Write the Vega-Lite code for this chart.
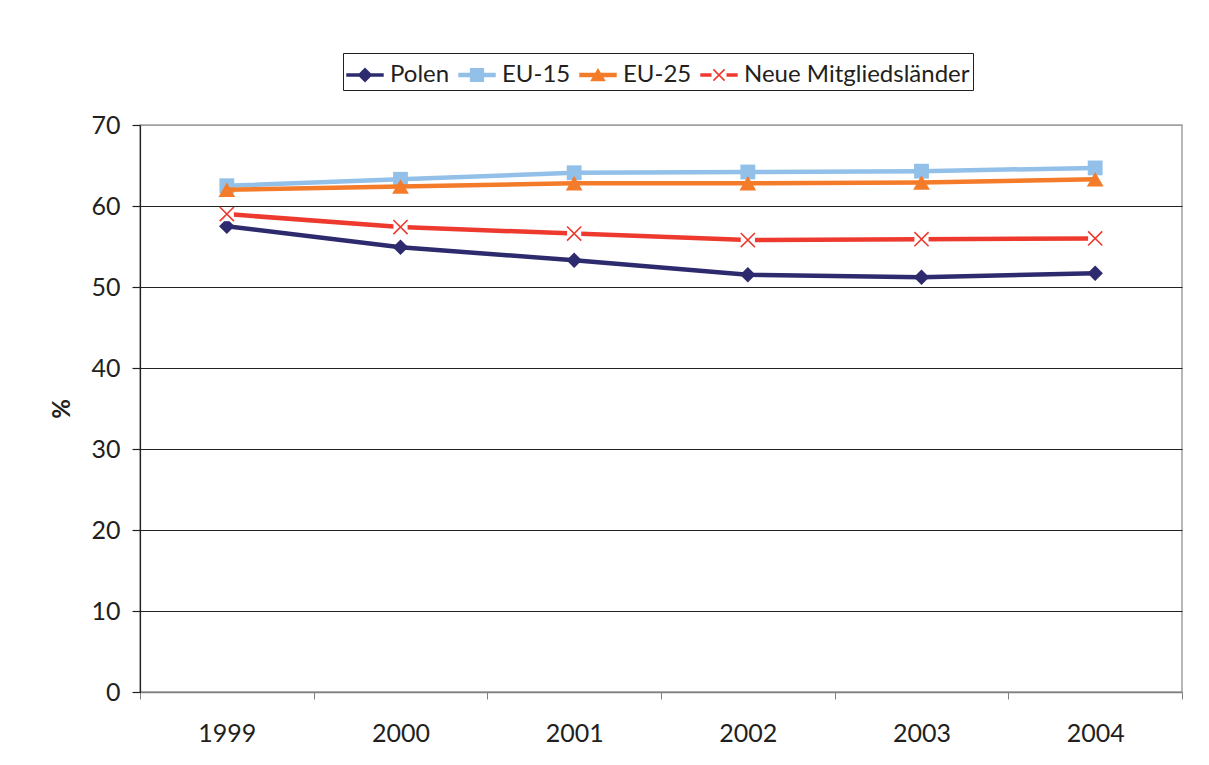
{
  "$schema": "https://vega.github.io/schema/vega-lite/v6.json",
  "autosize": "none",
  "width": 1042,
  "height": 567,
  "padding": {"left": 140, "top": 125, "right": 27, "bottom": 73},
  "background": "white",
  "config": {
    "font": "Lato",
    "view": {"stroke": "#a0a0a0", "strokeWidth": 1.5},
    "axis": {"labelFont": "Lato", "labelFontSize": 25, "labelColor": "#231f20", "titleFont": "Lato"},
    "legend": {"labelFont": "Lato"}
  },
  "data": {
    "values": [
      {"year": "1999", "series": "Polen", "value": 57.5},
      {"year": "2000", "series": "Polen", "value": 54.9},
      {"year": "2001", "series": "Polen", "value": 53.3},
      {"year": "2002", "series": "Polen", "value": 51.5},
      {"year": "2003", "series": "Polen", "value": 51.2},
      {"year": "2004", "series": "Polen", "value": 51.7},
      {"year": "1999", "series": "EU-15", "value": 62.5},
      {"year": "2000", "series": "EU-15", "value": 63.3},
      {"year": "2001", "series": "EU-15", "value": 64.1},
      {"year": "2002", "series": "EU-15", "value": 64.2},
      {"year": "2003", "series": "EU-15", "value": 64.3},
      {"year": "2004", "series": "EU-15", "value": 64.7},
      {"year": "1999", "series": "EU-25", "value": 62.0},
      {"year": "2000", "series": "EU-25", "value": 62.4},
      {"year": "2001", "series": "EU-25", "value": 62.8},
      {"year": "2002", "series": "EU-25", "value": 62.8},
      {"year": "2003", "series": "EU-25", "value": 62.9},
      {"year": "2004", "series": "EU-25", "value": 63.3},
      {"year": "1999", "series": "Neue Mitgliedsländer", "value": 59.0},
      {"year": "2000", "series": "Neue Mitgliedsländer", "value": 57.4},
      {"year": "2001", "series": "Neue Mitgliedsländer", "value": 56.6},
      {"year": "2002", "series": "Neue Mitgliedsländer", "value": 55.8},
      {"year": "2003", "series": "Neue Mitgliedsländer", "value": 55.9},
      {"year": "2004", "series": "Neue Mitgliedsländer", "value": 56.0}
    ]
  },
  "encoding": {
    "x": {
      "field": "year", "type": "ordinal",
      "scale": {"type": "band", "paddingInner": 0, "paddingOuter": 0},
      "axis": {
        "title": null, "labelAngle": 0, "tickBand": "extent", "grid": false,
        "domainColor": "#808080", "domainWidth": 1.5, "tickColor": "#808080", "tickSize": 7, "tickWidth": 1,
        "labelPadding": 22
      }
    },
    "y": {
      "field": "value", "type": "quantitative",
      "scale": {"domain": [0, 70], "nice": false},
      "axis": {
        "title": "%", "titleFontSize": 24, "titleFontWeight": "bold", "titleColor": "#231f20", "titlePadding": 16,
        "values": [0, 10, 20, 30, 40, 50, 60, 70],
        "grid": true,
        "gridColor": {"condition": {"test": "datum.value === 70 || datum.value === 0", "value": "#a0a0a0"}, "value": "#222222"},
        "gridWidth": 1.2,
        "domainColor": "#222222", "domainWidth": 1.2,
        "tickColor": "#222222", "tickSize": 8, "tickWidth": 1.2,
        "labelPadding": 12
      }
    }
  },
  "layer": [
    {
      "transform": [{"filter": "datum.series === 'Polen'"}],
      "layer": [
        {"mark": {"type": "line", "strokeWidth": 4.5, "color": "#2e2a6e"}},
        {"mark": {"type": "point", "shape": "diamond", "filled": true, "color": "#2e2a6e", "opacity": 1, "size": 240}}
      ]
    },
    {
      "transform": [{"filter": "datum.series === 'EU-15'"}],
      "layer": [
        {"mark": {"type": "line", "strokeWidth": 4.5, "color": "#92c0e8"}},
        {"mark": {"type": "point", "shape": "square", "filled": true, "color": "#92c0e8", "opacity": 1, "size": 220}}
      ]
    },
    {
      "transform": [{"filter": "datum.series === 'EU-25'"}],
      "layer": [
        {"mark": {"type": "line", "strokeWidth": 4.5, "color": "#f47b2a"}},
        {"mark": {"type": "point", "shape": "triangle-up", "filled": true, "color": "#f47b2a", "opacity": 1, "size": 280}}
      ]
    },
    {
      "transform": [{"filter": "datum.series === 'Neue Mitgliedsländer'"}],
      "layer": [
        {"mark": {"type": "line", "strokeWidth": 4.5, "color": "#ee3a2e"}},
        {"mark": {"type": "point", "shape": "square", "filled": true, "color": "white", "opacity": 1, "size": 200}},
        {"mark": {"type": "point", "shape": "M-1,-1L1,1M1,-1L-1,1", "filled": false, "stroke": "#ee3a2e", "strokeWidth": 1.6, "opacity": 1, "size": 200}}
      ]
    },
    {
      "mark": {"type": "point", "filled": true, "opacity": 0, "size": 10},
      "encoding": {
        "color": {
          "field": "series", "type": "nominal",
          "scale": {"domain": ["Polen", "EU-15", "EU-25", "Neue Mitgliedsländer"], "range": ["#2e2a6e", "#92c0e8", "#f47b2a", "#ee3a2e"]},
          "legend": {
            "title": null, "orient": "none", "direction": "horizontal",
            "legendX": 203, "legendY": -72,
            "symbolSize": 1400, "symbolStrokeWidth": 0, "symbolOpacity": 1,
            "labelFontSize": 24, "labelColor": "#231f20", "labelOffset": 6, "labelLimit": 400,
            "columnPadding": 8, "padding": 3,
            "strokeColor": "#231f20", "fillColor": "white"
          }
        },
        "shape": {
          "field": "series", "type": "nominal",
          "scale": {
            "domain": ["Polen", "EU-15", "EU-25", "Neue Mitgliedsländer"],
            "range": [
              "M-1,-0.1H1V0.1H-1Z M0,-0.4L0.4,0L0,0.4L-0.4,0Z",
              "M-1,-0.12H1V0.12H-1Z M-0.38,-0.38H0.38V0.38H-0.38Z",
              "M-1,-0.12H1V0.12H-1Z M0,-0.38L0.42,0.34L-0.42,0.34Z",
              "M-1,-0.1H-0.4V0.1H-1Z M0.4,-0.1H1V0.1H0.4Z M-0.27,-0.33L0.33,0.27L0.27,0.33L-0.33,-0.27Z M0.27,-0.33L0.33,-0.27L-0.27,0.33L-0.33,0.27Z"
            ]
          },
          "legend": {
            "title": null, "orient": "none", "direction": "horizontal",
            "legendX": 203, "legendY": -72,
            "symbolSize": 1400, "symbolStrokeWidth": 0, "symbolOpacity": 1,
            "labelFontSize": 24, "labelColor": "#231f20", "labelOffset": 6, "labelLimit": 400,
            "columnPadding": 8, "padding": 3,
            "strokeColor": "#231f20", "fillColor": "white"
          }
        }
      }
    }
  ]
}
